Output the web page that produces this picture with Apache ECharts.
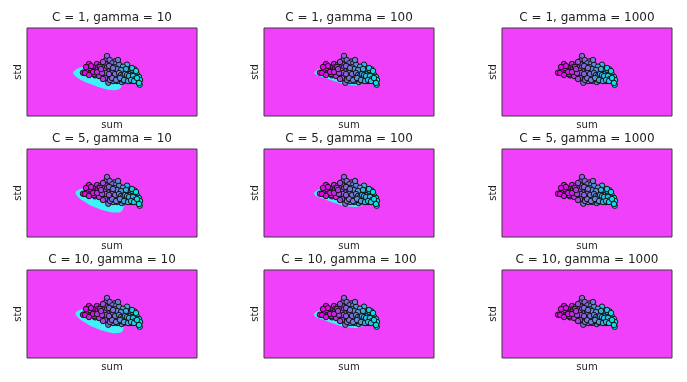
<!DOCTYPE html>
<html>
<head>
<meta charset="utf-8">
<script src="https://cdn.jsdelivr.net/npm/echarts@6/dist/echarts.min.js"></script>
<style>html,body{margin:0;padding:0;background:#fff}#c{width:687px;height:382px}</style>
</head>
<body>
<div id="c"></div>
<script>
// ---- data ----
const panelTitles = [
  'C = 1, gamma = 10', 'C = 1, gamma = 100', 'C = 1, gamma = 1000',
  'C = 5, gamma = 10', 'C = 5, gamma = 100', 'C = 5, gamma = 1000',
  'C = 10, gamma = 10', 'C = 10, gamma = 100', 'C = 10, gamma = 1000'
];
const xName = 'sum';
const yName = 'std';

// scatter samples: sum, std, target (0 = cyan ... 1 = magenta)
const sumVals = [80,78.7,82.7,88,62,70,74,78,85.3,89.3,92,100,66,70.7,74.7,80,84,88,96,103.3,107.3,
  56,60,64,68.7,72.7,77.3,82,86,91.3,98,101.3,105.3,108.7,68,72,76.7,80.7,85.3,90,94.7,98.7,103.3,110,
  81.3,84.7,89.3,93.3,98,101.3,106.7,111.3,81.3,94.7,97.3,111.3,112.7,
  87,90,93,96,99,102,105,88,92,96,100,104,108,83,79,75,71,67,63,85,90,94,99,105,109,112,113,110,86,90,104,78,82,76,73,91,
  84,87,89,91,93,95,97,99,101,103,86,88,92,94,96,98,100,102,106,108,83,85,89,93,97,101,104,107,110,112,
  64,66,70,74,59,58,62,76,82,86];
const stdVals = [60,55.3,56,54.7,52,52,51.3,52,52.7,52.7,51.3,51.3,48.7,48.7,49.3,48.7,49.3,48.7,49.3,46.7,46.7,
  43.3,45.3,46,44.7,45.3,45.3,44.7,45.3,45.3,44.7,45.3,44,43.3,40.7,40,41.3,40.7,41.3,41.3,40.7,39.3,40,41.3,
  36,37.3,37.3,36.7,37.3,37.3,37.3,37.3,33.3,34,35.3,34,31.3,
  43,44,42,43,42,42,41,39,39,38,39,38,39,39,43,43,47,42,48,47,47,46,47,48,45,39,36,35,35,35,35,38,50,54,49,56,
  41,40,38,40,37,39,36,40,38,36,44,42,43,41,40,42,41,40,40,37,36,38,36,38,36,35,36,35,38,33,
  50,44,44,47,49,43,41,37,42,48];
const targetVals = [0.55,0.6,0.55,0.5,0.95,0.85,0.75,0.65,0.5,0.45,0.4,0.2,0.9,0.85,0.7,0.6,0.5,0.45,0.3,0.15,0.1,
  1.0,0.95,0.9,0.85,0.75,0.65,0.55,0.5,0.4,0.25,0.2,0.1,0.05,0.85,0.8,0.65,0.55,0.5,0.4,0.35,0.25,0.15,0.05,
  0.5,0.5,0.4,0.35,0.3,0.2,0.1,0.0,0.5,0.35,0.3,0.0,0.0,
  0.45,0.4,0.38,0.3,0.25,0.2,0.12,0.42,0.38,0.32,0.22,0.15,0.08,0.5,0.6,0.7,0.8,0.88,0.92,0.48,0.42,0.35,0.25,0.12,0.05,0.02,0.0,0.03,0.45,0.42,0.12,0.6,0.55,0.65,0.75,0.45,
  0.5,0.48,0.45,0.42,0.4,0.35,0.3,0.25,0.2,0.15,0.55,0.5,0.45,0.4,0.35,0.3,0.25,0.2,0.12,0.08,0.55,0.5,0.45,0.38,0.3,0.22,0.15,0.1,0.05,0.02,
  0.92,0.9,0.82,0.75,0.97,1.0,0.92,0.7,0.58,0.5];

// decision-region (cyan class) outlines, [sum, std] vertices
const regionC1G10 = [[46,43],[49,46.5],[55,49],[62,50],[70,48.5],[80,45],[89,41],[93.5,36],[95,31],[92.5,27],[86,25.8],[77,27.3],[67,30.5],[57,34.5],[50,38.5]];
const regionC5G10 = [[48.5,44.5],[52,47.5],[57,48.7],[63,49],[72,47.5],[82,43],[91,38.5],[95.5,34],[96.5,29],[94,25.3],[86,24.5],[77,26.5],[66,30.5],[57,35.5],[51,40]];
const regionC10G10 = [[48.5,44.7],[52,47.7],[57,48.8],[63,49],[72,47.5],[82,43],[91,38.5],[95.5,34],[96.5,29],[94,25.5],[86,24.8],[77,27],[66,31],[57,36],[51,40.5]];
const regionC1G100 = [[50.5,43],[53.5,46.5],[58,48],[62,46],[68,42],[78,38],[88,36],[96,35],[99,32.5],[92,30.5],[80,32],[70,35],[60,38.5],[53.5,40.5]];
const regionC5G100 = [[50,43.5],[53.5,47],[58,48],[62,46],[68,42],[78,37.5],[88,35.5],[96,34.5],[99,32],[92,30],[80,31.2],[70,34.2],[60,38],[53.5,40]];
const regionC10G100 = [[50,43.5],[53.5,47],[58,48],[62,46],[68,42],[78,37.5],[88,35.5],[96,34.5],[99,32],[92,30],[80,31.2],[70,34.2],[60,38],[53.5,40]];
const regionG1000 = [];
const panelRegions = [regionC1G10, regionC1G100, regionG1000, regionC5G10, regionC5G100, regionG1000, regionC10G10, regionC10G100, regionG1000];

// ---- layout ----
const colLefts = [27, 264, 502];
const rowTops = [28, 149, 270];
const PW = 170, PH = 88;
const bgMagenta = '#f040fb';
const regionCyan = '#40f0fb';

function cool(t) {
  const r = Math.round(235 * t), g = Math.round(230 * (1 - t));
  return 'rgb(' + r + ',' + g + ',' + Math.round(235 - 20 * Math.sin(Math.PI * t)) + ')';
}

const points = sumVals.map((s, i) => [s, stdVals[i], targetVals[i]]);

const grids = [], xAxes = [], yAxes = [], series = [], titles = [];
for (let k = 0; k < 9; k++) {
  const r = Math.floor(k / 3), c = k % 3;
  grids.push({ left: colLefts[c], top: rowTops[r], width: PW, height: PH, show: true,
    backgroundColor: bgMagenta, borderColor: '#3a3a3a', borderWidth: 1, containLabel: false });
  xAxes.push({ gridIndex: k, type: 'value', min: 0, max: 170, name: xName, nameLocation: 'middle', nameGap: 4,
    nameTextStyle: { fontSize: 10, color: '#222', fontFamily: 'DejaVu Sans', verticalAlign: 'top' },
    axisLine: { show: false }, axisTick: { show: false }, axisLabel: { show: false }, splitLine: { show: false } });
  yAxes.push({ gridIndex: k, type: 'value', min: 0, max: 88, name: yName, nameLocation: 'middle', nameGap: 4,
    nameTextStyle: { fontSize: 10, color: '#222', fontFamily: 'DejaVu Sans' },
    axisLine: { show: false }, axisTick: { show: false }, axisLabel: { show: false }, splitLine: { show: false } });
  titles.push({ text: panelTitles[k], left: colLefts[c] + PW / 2, top: rowTops[r] - 16, textAlign: 'center', padding: 0,
    textStyle: { fontSize: 12, fontWeight: 'normal', color: '#222', fontFamily: 'DejaVu Sans' } });
  const reg = panelRegions[k];
  series.push({
    type: 'custom', xAxisIndex: k, yAxisIndex: k, silent: true, z: 1,
    data: reg.length ? [0] : [],
    renderItem: (params, api) => ({
      type: 'polygon',
      shape: { points: reg.map(p => api.coord(p)), smooth: 0.3 },
      style: { fill: regionCyan, stroke: null }
    })
  });
  series.push({
    type: 'scatter', xAxisIndex: k, yAxisIndex: k, z: 3, symbol: 'circle', symbolSize: 5.5,
    data: points,
    itemStyle: { color: p => cool(p.value[2]), borderColor: '#151515', borderWidth: 1, opacity: 1 }
  });
}

const chart = echarts.init(document.getElementById('c'), null, { renderer: 'canvas' });
chart.setOption({
  animation: false,
  backgroundColor: '#fff',
  title: titles,
  grid: grids, xAxis: xAxes, yAxis: yAxes, series: series
});
</script>
</body>
</html>
